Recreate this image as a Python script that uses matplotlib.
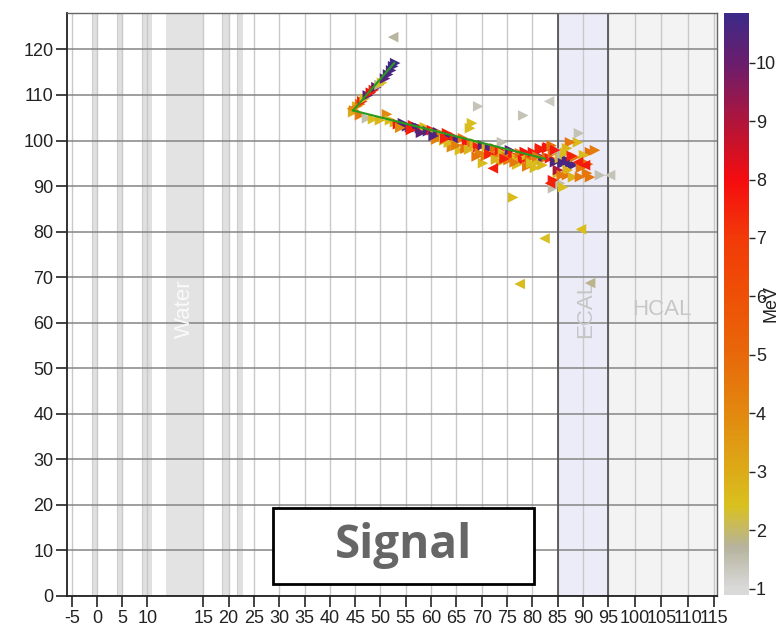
import numpy as np
import matplotlib
matplotlib.use("Agg")
import matplotlib.pyplot as plt
from matplotlib.colors import LinearSegmentedColormap, Normalize
from matplotlib.cm import ScalarMappable
from matplotlib.patches import Rectangle

plt.rcParams['font.family'] = ['Liberation Sans', 'DejaVu Sans']

# ---- piecewise x scale (detector coordinate -> drawing coordinate) ----
scale_x = [-100, -5, 10, 15, 95, 115, 300]
scale_u = [-402.7, 72.3, 147.3, 203.3, 608.3, 714.3, 1694.8]

# ---- axis ticks ----
x_ticks = [-5, 0, 5, 10, 15, 20, 25, 30, 35, 40, 45, 50, 55, 60, 65, 70, 75,
           80, 85, 90, 95, 100, 105, 110, 115]
y_ticks = [0, 10, 20, 30, 40, 50, 60, 70, 80, 90, 100, 110, 120]
cbar_ticks = [1, 2, 3, 4, 5, 6, 7, 8, 9, 10]

# ---- detector geometry ----
thin_layers = [(-1.0, 0.0), (3.9, 5.0), (8.9, 10.4), (18.7, 20.0), (21.6, 22.8)]
water = (11.7, 15.0)
ecal = (85.0, 95.0)
hcal = (95.0, 116.0)

# ---- reconstructed tracks (start, end) ----
track_x = [(44.6, 52.7), (44.6, 82.5)]
track_y = [(106.6, 117.0), (106.6, 96.0)]

# ---- hits: position, energy [MeV], marker orientation ----
hits_x = [
    44.8, 45.4, 46.0, 46.4, 46.9, 47.5, 48.1, 48.7, 49.2, 49.8, 50.3, 50.9,
    51.5, 52.1, 52.5, 52.9, 52.5,
    44.6, 44.4, 45.95, 47.33, 48.52, 49.90, 51.28, 51.88, 52.86, 53.46, 54.44,
    55.24, 55.83, 56.42, 57.21, 57.80, 58.40, 58.79, 59.38, 60.17, 60.77, 61.36,
    62.15, 63.14, 63.73, 64.12, 64.72, 65.31, 65.70, 66.30, 67.09, 67.68, 68.07,
    68.07, 68.67, 69.26, 69.65, 70.25, 70.25, 71.04, 71.63, 72.2, 72.62, 73.01,
    73.61, 74.00, 74.20, 74.99, 75.58, 76.17, 76.96, 77.56, 78.15, 78.94, 79.53,
    80.12, 80.91, 81.51, 82.10, 82.89, 83.09, 83.48, 84.07, 84.47, 84.86, 85.46,
    85.85, 86.05, 86.84, 87.43, 88.03, 88.42, 89.0, 89.01, 90.40, 85.06, 85.46,
    83.48, 84.07, 86.05, 86.84, 88.03, 90.79, 91.38, 91.38, 92.37, 93.36, 95.33,
    84.07, 85.06, 87.43, 86.84, 82.9, 81.5,
    61.0, 62.6, 64.9, 66.8, 70.8, 73.8, 75.3, 77.0, 79.0, 80.5,
    69.3, 78.2, 83.3, 89.2, 76.2, 82.4, 89.6, 77.5, 91.4,
    63.5, 65.0, 67.5, 69.0, 71.5, 72.8, 74.5, 76.5, 78.5, 79.8, 81.0, 82.0,
    83.8, 84.5, 86.5, 87.8, 89.6, 90.2, 91.0, 87.0, 85.8, 89.4,
    53.9, 56.0, 58.0, 60.5, 62.8,
]
hits_y = [
    106.6, 107.5, 108.0, 108.6, 109.2, 109.9, 110.5, 111.1, 111.7, 112.2, 112.7,
    113.6, 114.5, 115.4, 116.3, 117.0, 122.7,
    106.2, 107.0, 105.55, 104.89, 104.67, 104.45, 105.77, 104.45, 104.02, 103.58,
    103.80, 103.14, 102.92, 103.36, 102.92, 102.70, 102.48, 102.92, 102.04,
    102.26, 101.60, 101.82, 101.38, 101.60, 100.72, 98.53, 100.72, 100.07, 97.87,
    100.50, 99.63, 102.70, 103.80, 98.97, 99.41, 98.53, 97.21, 95.02, 98.97,
    98.53, 98.31, 93.9, 98.31, 96.77, 97.87, 99.63, 97.21, 96.33, 97.87, 96.77,
    96.12, 97.21, 95.68, 96.77, 96.12, 97.43, 95.24, 97.87, 96.12, 96.33, 98.53,
    96.12, 97.21, 95.24, 97.87, 96.12, 96.77, 95.02, 95.68, 95.02, 94.58, 96.33,
    99.6, 95.24, 94.58, 92.82, 90.63, 90.63, 91.29, 89.75, 92.39, 91.95, 92.82,
    91.95, 97.43, 97.87, 92.39, 92.39,
    89.53, 93.5, 99.6, 98.3, 98.3, 98.3,
    100.2, 100.0, 99.0, 98.2, 96.6, 95.3, 95.7, 94.7, 94.3, 94.0,
    107.5, 105.5, 108.6, 101.6, 87.5, 78.5, 80.5, 68.5, 68.7,
    99.5, 98.9, 98.0, 96.5, 97.0, 95.8, 96.0, 95.2, 97.5, 95.0, 96.5, 94.6,
    98.9, 97.9, 97.3, 96.6, 94.0, 96.8, 94.8, 93.5, 92.4, 92.0,
    102.8, 102.3, 101.7, 101.0, 100.4,
]
hits_e = [
    4.5, 2.8, 5.0, 7.5, 2.5, 10.5, 8.0, 7.5, 10.0, 1.8, 2.5, 10.3, 10.5, 10.6,
    10.8, 10.8, 1.7,
    3.0, 4.0, 4.5, 1.5, 2.5, 2.7, 4.0, 2.6, 2.8, 7.8, 10.5, 10.6, 10.4, 7.6,
    10.5, 10.6, 7.5, 2.6, 10.5, 7.8, 2.7, 10.4, 4.5, 7.6, 10.5, 4.0, 7.5, 10.6,
    2.5, 4.8, 7.8, 2.6, 2.5, 4.5, 2.8, 7.6, 4.2, 2.6, 10.3, 2.8, 10.5, 7.6, 4.8,
    4.5, 7.5, 1.5, 2.7, 4.6, 10.4, 7.6, 2.6, 4.6, 7.7, 2.6, 4.7, 7.7, 2.6, 7.8,
    10.4, 5.0, 7.7, 7.6, 4.8, 10.5, 1.5, 2.6, 1.6, 10.6, 10.5, 10.6, 10.7, 4.5,
    2.6, 7.6, 7.7, 2.6, 1.5, 7.5, 7.6, 2.5, 4.6, 2.8, 4.5, 4.6, 4.8, 4.4, 1.5,
    1.4,
    1.5, 9.0, 4.6, 2.7, 7.7, 7.6,
    4.2, 2.6, 2.7, 4.6, 4.4, 2.6, 4.5, 2.5, 4.4, 2.6,
    1.4, 1.4, 1.3, 1.4, 2.6, 2.4, 2.5, 2.6, 1.8,
    2.6, 4.3, 2.7, 4.6, 7.5, 2.8, 7.6, 4.5, 7.8, 2.5, 4.6, 2.7,
    4.7, 7.7, 2.6, 7.6, 4.5, 2.6, 4.7, 2.8, 4.5, 4.4,
    4.0, 7.5, 10.3, 10.5, 7.6,
]
hits_shape = (
    ['>'] * 16 + ['<'] +
    ['>', '<'] + ['>'] * 39 + ['<'] + ['>'] * 31 + ['<', '<'] +
    ['>', '>', '<'] + ['>'] * 9 + ['<'] +
    ['>'] * 6 +
    ['>'] * 10 +
    ['>', '>', '<', '>', '>', '<', '<', '<', '<'] +
    ['>'] * 22 +
    ['>'] * 5
)

# ---- energy colour scale ----
e_min, e_max = 0.89, 10.85
cmap_stops = [
    (1.0, '#d9d9d9'), (1.7, '#b6b39c'), (2.4, '#d9c11f'), (3.0, '#dcab17'),
    (4.0, '#e2880f'), (5.0, '#e8680a'), (6.0, '#ee5006'), (7.0, '#f23a08'),
    (8.0, '#f50c0f'), (9.0, '#b0153a'), (10.0, '#6b1d6d'), (10.85, '#3c2a88'),
]


def fwd(x):
    return np.interp(x, scale_x, scale_u)


def inv(u):
    return np.interp(u, scale_u, scale_x)


span = e_max - e_min
cmap = LinearSegmentedColormap.from_list(
    'energy', [(max(0.0, min(1.0, (v - e_min) / span)), c) for v, c in
               [(e_min, cmap_stops[0][1])] + cmap_stops])
norm = Normalize(e_min, e_max)

fig = plt.figure(figsize=(7.84, 6.28), dpi=100)
ax = fig.add_axes([0.0858, 0.051, 0.8287, 0.9283])
cax = fig.add_axes([0.9235, 0.0525, 0.0319, 0.9268])

ax.set_xscale('function', functions=(fwd, inv))
ax.set_xlim(-6.0, 115.5)
ax.set_ylim(0, 128)

# detector regions
ax.axvspan(*hcal, color='#f3f3f3', lw=0, zorder=0)
ax.axvspan(*ecal, color='#ececf9', lw=0, zorder=0)
ax.axvspan(*water, color='#e3e3e3', lw=0, zorder=0)
for a, b in thin_layers:
    ax.axvspan(a, b, color='#e0e0e0', lw=0, zorder=0)
    ax.axvline(a, color='#cdcdcd', lw=0.8, zorder=0.5)

# grid
for xv in x_ticks:
    ax.axvline(xv, color='#c9c9c9', lw=1.0, zorder=1)
for xv in ecal:
    ax.axvline(xv, color='#555555', lw=1.3, zorder=1.2)
for yv in y_ticks:
    ax.axhline(yv, color='#858585', lw=1.1, zorder=1.1)

ax.text(sum(water) / 2, 63, 'Water', rotation=90, ha='center', va='center',
        color='#fafafa', fontsize=16, zorder=1.5)
ax.text(90.5, 63, 'ECAL', rotation=90, ha='center', va='center',
        color='#c6c6c6', fontsize=16, zorder=1.5)
ax.text(105, 63, 'HCAL', ha='center', va='center',
        color='#c6c6c6', fontsize=16, zorder=1.5)

hx = np.array(hits_x)
hy = np.array(hits_y)
he = np.array(hits_e)
hs = np.array(hits_shape)
for m in ('>', '<'):
    sel = hs == m
    ax.scatter(hx[sel], hy[sel], c=he[sel], cmap=cmap, norm=norm, marker=m,
               s=58, linewidths=0, zorder=3)

for tx, ty in zip(track_x, track_y):
    ax.plot(tx, ty, color='#2a9a1e', lw=1.5, zorder=4)

ax.set_xticks(x_ticks)
ax.set_xticklabels([str(v) for v in x_ticks])
ax.set_yticks(y_ticks)
ax.tick_params(axis='both', direction='out', length=8, width=1.2,
               color='#222222', labelsize=13, labelcolor='#222222', pad=2)
ax.xaxis.set_minor_locator(matplotlib.ticker.NullLocator())
for side in ('left', 'bottom'):
    ax.spines[side].set_color('#222222')
    ax.spines[side].set_linewidth(1.3)
for side in ('top', 'right'):
    ax.spines[side].set_color('#666666')
    ax.spines[side].set_linewidth(1.0)

cbar = fig.colorbar(ScalarMappable(norm=norm, cmap=cmap), cax=cax)
cbar.outline.set_visible(False)
cbar.set_ticks(cbar_ticks)
cax.tick_params(length=4, width=1.0, color='#222222', labelsize=13,
                labelcolor='#222222', pad=1)
fig.text(0.984, 0.516, 'MeV', rotation=90, ha='center', va='center',
         fontsize=13, color='#222222')

# label box
fig.patches.append(Rectangle((0.3482, 0.0701), 0.3329, 0.1211,
                             transform=fig.transFigure, facecolor='white',
                             edgecolor='black', lw=2.0, zorder=10))
fig.text(0.5147, 0.1306, 'Signal', ha='center', va='center', fontsize=33,
         fontweight='bold', family=['Open Sans', 'DejaVu Sans'],
         color='#666666', zorder=11)

fig.savefig('out.png', dpi=100)
